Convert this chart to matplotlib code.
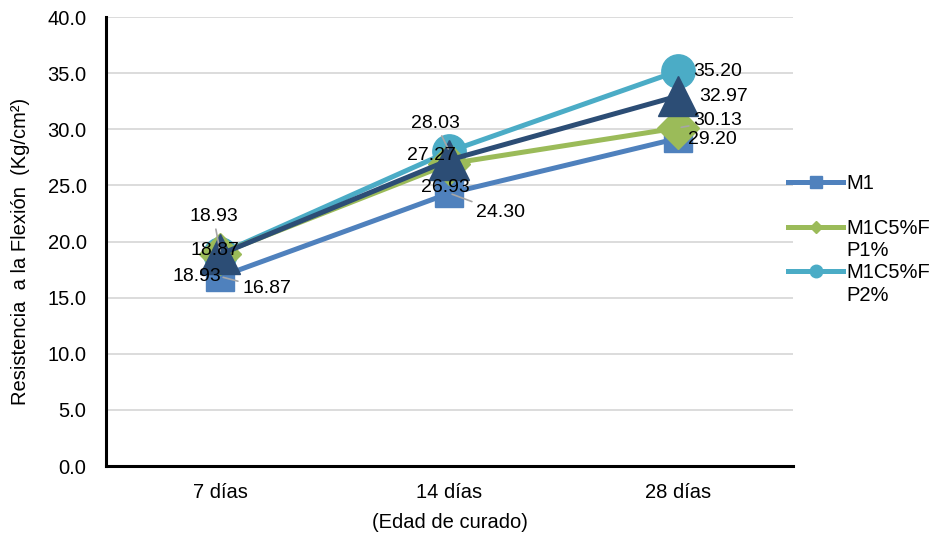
import matplotlib
matplotlib.use("Agg")
import matplotlib.pyplot as plt
from matplotlib.lines import Line2D

plt.rcParams['font.family'] = ['Liberation Sans', 'DejaVu Sans']

# Data: flexural strength by curing age
categories = ["7 días", "14 días", "28 días"]
m1 = [16.87, 24.30, 29.20]
m1c5_fp1 = [18.93, 26.93, 30.13]
m1c5_fp2 = [18.93, 28.03, 35.20]
m1c5_fp3 = [18.87, 27.27, 32.97]

# legend text, wrapped over two rows for the longer names
legend_rows = ["M1", " ", "M1C5%F", "P1%", "M1C5%F", "P2%"]

c_m1 = "#4f81bd"
c_fp1 = "#9bbb59"
c_fp2 = "#4bacc6"
c_fp3 = "#2c4d75"

fs = 14.5
fig = plt.figure(figsize=(9.37, 5.38), dpi=100)
ax = fig.add_axes([0.1131, 0.1338, 0.7332, 0.8346])

x = list(range(len(categories)))
lw = 3.6

ax.plot(x, m1, color=c_m1, lw=lw, marker="s", ms=20, zorder=3)
ax.plot(x, m1c5_fp1, color=c_fp1, lw=lw, marker="D", ms=21, zorder=4)
ax.plot(x, m1c5_fp3, color=c_fp3, lw=lw, marker="^", ms=29, zorder=5)
ax.plot(x, m1c5_fp2, color=c_fp2, lw=lw, marker="o", ms=24, zorder=2)

ax.set_xlim(-0.5, 2.5)
ax.set_ylim(0, 40)
ax.set_yticks([i * 5 for i in range(9)])
ax.set_yticklabels([f"{i * 5:.1f}" for i in range(9)])
ax.set_xticks(x)
ax.set_xticklabels(categories)
ax.tick_params(axis="both", length=0, labelsize=fs, colors="black")
ax.tick_params(axis="x", pad=12)
ax.tick_params(axis="y", pad=14)

ax.yaxis.grid(True, color="#d9d9d9", lw=1.3)
ax.set_axisbelow(True)
for s in ["top", "right"]:
    ax.spines[s].set_visible(False)
for s in ["left", "bottom"]:
    ax.spines[s].set_color("black")
    ax.spines[s].set_linewidth(2.2)

ax.set_ylabel("Resistencia  a la Flexión  (Kg/cm²)", fontsize=fs)
ax.yaxis.set_label_coords(-0.11, 0.477)
ax.set_xlabel("(Edad de curado)", fontsize=fs, labelpad=8)

# Value labels placed around each marker, some with leader lines
def lbl(vals, i, dx, dy, leader=False):
    kw = {}
    if leader:
        kw["arrowprops"] = dict(arrowstyle="-", color="#a6a6a6", lw=1.2,
                                shrinkA=1, shrinkB=2)
    ax.annotate(f"{vals[i]:.2f}", xy=(x[i], vals[i]), xytext=(dx, dy),
                textcoords="offset points", ha="center", va="center",
                fontsize=14, color="black", zorder=10, **kw)

p = 0.72
# 7 días
lbl(m1c5_fp2, 0, -7 * p, 37 * p, leader=True)
lbl(m1c5_fp3, 0, -6 * p, 4 * p)
lbl(m1c5_fp1, 0, -24 * p, -23 * p)
lbl(m1, 0, 46 * p, -12 * p, leader=True)
# 14 días
lbl(m1c5_fp2, 1, -14 * p, 28 * p, leader=True)
lbl(m1c5_fp3, 1, -18 * p, 4 * p)
lbl(m1c5_fp1, 1, -4 * p, -24 * p)
lbl(m1, 1, 51 * p, -19 * p, leader=True)
# 28 días
lbl(m1c5_fp2, 2, 39 * p, -1 * p)
lbl(m1c5_fp3, 2, 45 * p, -1 * p)
lbl(m1c5_fp1, 2, 39 * p, 7 * p, leader=True)
lbl(m1, 2, 34 * p, -1 * p)

h1 = Line2D([], [], color=c_m1, lw=lw, marker="s", ms=8)
h2 = Line2D([], [], color=c_fp1, lw=lw, marker="D", ms=6)
h3 = Line2D([], [], color=c_fp2, lw=lw, marker="o", ms=9)
blank = Line2D([], [], color="none")
leg = fig.legend([h1, blank, h2, blank, h3, blank], legend_rows,
                 loc="upper left", bbox_to_anchor=(0.841, 0.677),
                 frameon=False, fontsize=fs,
                 handlelength=2.75, handletextpad=0.15, labelspacing=0.17,
                 borderaxespad=0, borderpad=0)

fig.savefig("out.png", dpi=100)
